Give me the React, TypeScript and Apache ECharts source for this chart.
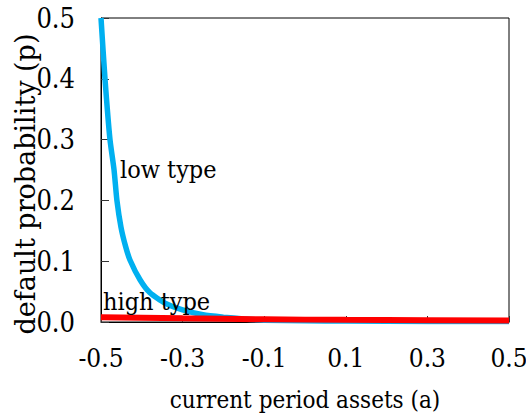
import React, { useEffect, useRef } from "react";
import * as echarts from "echarts";

const xTicks = [-0.5, -0.3, -0.1, 0.1, 0.3, 0.5];
const yTicks = [0, 0.1, 0.2, 0.3, 0.4, 0.5];

const lowA = [-0.5, -0.49, -0.478, -0.468, -0.461, -0.451, -0.44, -0.429, -0.404, -0.38, -0.343, -0.3, -0.25, -0.2, -0.15, -0.1, 0, 0.1, 0.3, 0.5];
const lowP = [0.5, 0.398, 0.3, 0.25, 0.2, 0.156, 0.125, 0.102, 0.069, 0.048, 0.031, 0.02, 0.012, 0.008, 0.005, 0.003, 0.002, 0.0015, 0.001, 0.001];

const highA = [-0.5, -0.3, -0.1, 0.1, 0.3, 0.5];
const highP = [0.008, 0.006, 0.0045, 0.0035, 0.003, 0.0025];

const seriesNames = ["low type", "high type"];

const SERIF_C = "DejaVu Serif Condensed";
const SERIF = "DejaVu Serif";

export default function App() {
  const ref = useRef<HTMLDivElement>(null);
  useEffect(() => {
    if (!ref.current) return;
    const chart = echarts.init(ref.current, undefined, { renderer: "svg" });
    chart.setOption({
      animation: false,
      backgroundColor: "#ffffff",
      grid: {
        left: 101,
        right: 17,
        top: 18,
        bottom: 96,
        outerBoundsMode: "none",
        containLabel: false,
        show: true,
        borderColor: "#000000",
        borderWidth: 1,
        backgroundColor: "transparent",
      },
      xAxis: {
        type: "value",
        min: -0.5,
        max: 0.5,
        name: "current period assets (a)",
        nameLocation: "middle",
        nameGap: 66,
        nameMoveOverlap: false,
        nameTextStyle: { fontFamily: SERIF_C, fontSize: 24, color: "#000" },
        axisLine: { show: true, onZero: false, lineStyle: { color: "#000", width: 1 } },
        axisTick: { show: true, inside: true, length: 6, customValues: xTicks, lineStyle: { color: "#333" } },
        axisLabel: {
          customValues: xTicks,
          margin: 23,
          fontFamily: SERIF_C,
          fontSize: 26,
          color: "#000",
          formatter: (v: number) => v.toFixed(1),
        },
        splitLine: { show: false },
      },
      yAxis: {
        type: "value",
        min: 0,
        max: 0.5,
        name: "default probability (p)",
        nameLocation: "middle",
        nameGap: 62,
        nameMoveOverlap: false,
        nameTextStyle: { fontFamily: SERIF, fontSize: 27, color: "#000", padding: [0, 28, 0, 0] },
        axisLine: { show: true, onZero: false, lineStyle: { color: "#000", width: 1 } },
        axisTick: { show: true, inside: true, length: 8, customValues: yTicks, lineStyle: { color: "#333" } },
        axisLabel: {
          customValues: yTicks,
          margin: 26,
          fontFamily: SERIF_C,
          fontSize: 27,
          color: "#000",
          formatter: (v: number) => v.toFixed(1),
        },
        splitLine: { show: false },
      },
      graphic: [
        {
          type: "text",
          left: 120,
          top: 157,
          style: { text: seriesNames[0], fontFamily: SERIF_C, fontSize: 25, fill: "#000" },
          z: 10,
        },
        {
          type: "text",
          left: 103,
          top: 289,
          style: { text: seriesNames[1], fontFamily: SERIF_C, fontSize: 25, fill: "#000" },
          z: 10,
        },
      ],
      series: [
        {
          name: seriesNames[0],
          type: "line",
          data: lowA.map((a, i) => [a, lowP[i]]),
          smooth: 0.2,
          showSymbol: false,
          symbol: "none",
          lineStyle: { color: "#00B0F0", width: 5.5 },
          z: 2,
        },
        {
          name: seriesNames[1],
          type: "line",
          data: highA.map((a, i) => [a, highP[i]]),
          smooth: true,
          showSymbol: false,
          symbol: "none",
          lineStyle: { color: "#FF0000", width: 6 },
          z: 3,
        },
      ],
    });
    return () => chart.dispose();
  }, []);
  return <div ref={ref} style={{ width: 526, height: 418, position: "absolute", left: 0, top: 0 }} />;
}
